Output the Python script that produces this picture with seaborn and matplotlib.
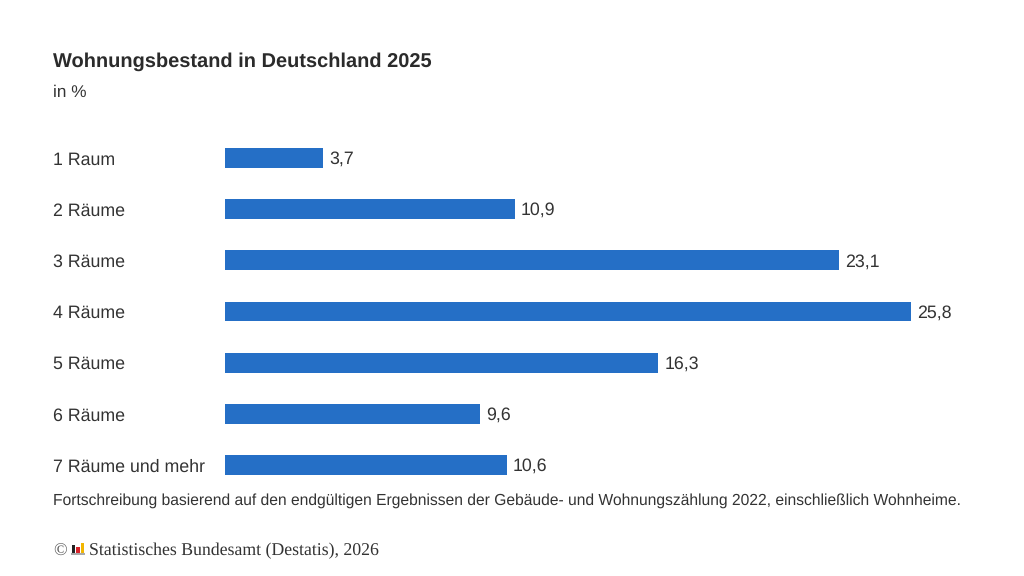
import matplotlib
matplotlib.use("Agg")
import matplotlib.pyplot as plt
import seaborn as sns
import pandas as pd

categories = ["1 Raum", "2 Räume", "3 Räume", "4 Räume", "5 Räume", "6 Räume", "7 Räume und mehr"]
values = [3.7, 10.9, 23.1, 25.8, 16.3, 9.6, 10.6]
labels = ["3,7", "10,9", "23,1", "25,8", "16,3", "9,6", "10,6"]
title = "Wohnungsbestand in Deutschland 2025"
subtitle = "in %"
note = "Fortschreibung basierend auf den endgültigen Ergebnissen der Gebäude- und Wohnungszählung 2022, einschließlich Wohnheime."
source = "Statistisches Bundesamt (Destatis), 2026"
logo_heights = [0.8, 0.55, 1.0]
logo_colors = ["#222222", "#d8232a", "#f2b600"]

sns.set_theme(style="white")
plt.rcParams["font.family"] = ["Liberation Sans", "DejaVu Sans"]
plt.rcParams["text.hinting"] = "no_hinting"
W, H = 1024, 576
fig = plt.figure(figsize=(W / 100, H / 100), dpi=100, facecolor="white")
ax = fig.add_axes([225 / W, 1 - 490.6 / H, 705 / W, (490.6 - 132.4) / H])
df = pd.DataFrame({"c": categories, "v": values})
sns.barplot(df, y="c", x="v", color="#256fc6", saturation=1, width=0.39, linewidth=0, ax=ax)
ax.set_xlim(0, 25.8 * 705 / 686)
ax.set_ylim(6.5, -0.5)
sns.despine(ax=ax, left=True, bottom=True)
ax.set_xlabel(""); ax.set_ylabel("")
ax.set_xticks([])
ax.tick_params(axis="y", length=0, pad=172 * 0.72, labelsize=12.8, labelcolor="#333333")
for t in ax.get_yticklabels():
    t.set_ha("left")
for t in ax.bar_label(ax.containers[0], labels=labels, padding=4.4, fontsize=12.8, color="#333333"):
    t.xyann = (t.xyann[0], -1.0)

fig.text(53 / W, 1 - 62 / H, title, fontsize=14.4, fontweight="bold", color="#2b2b2b", va="center")
fig.text(53 / W, 1 - 92.5 / H, subtitle, fontsize=12.4, color="#333333", va="center")
fig.text(53 / W, 1 - 501 / H, note, fontsize=11.26, color="#333333", va="center")
fig.text(53 / W, 1 - 552 / H, "©", fontsize=13, color="#555555", va="center", family="Liberation Serif")
fig.text(89 / W, 1 - 551 / H, source, fontsize=12.77, color="#333333", va="center", family="Liberation Serif")

lg = fig.add_axes([71 / W, 1 - 555 / H, 14 / W, 13 / H])
lg.bar(range(3), logo_heights, width=0.75, bottom=0.2, color=logo_colors, linewidth=0)
lg.axhline(0.07, color="#aaaaaa", lw=1.5)
lg.set_xlim(-0.5, 2.5); lg.set_ylim(0, 1.25); lg.axis("off")

fig.savefig("out.png", dpi=100)
